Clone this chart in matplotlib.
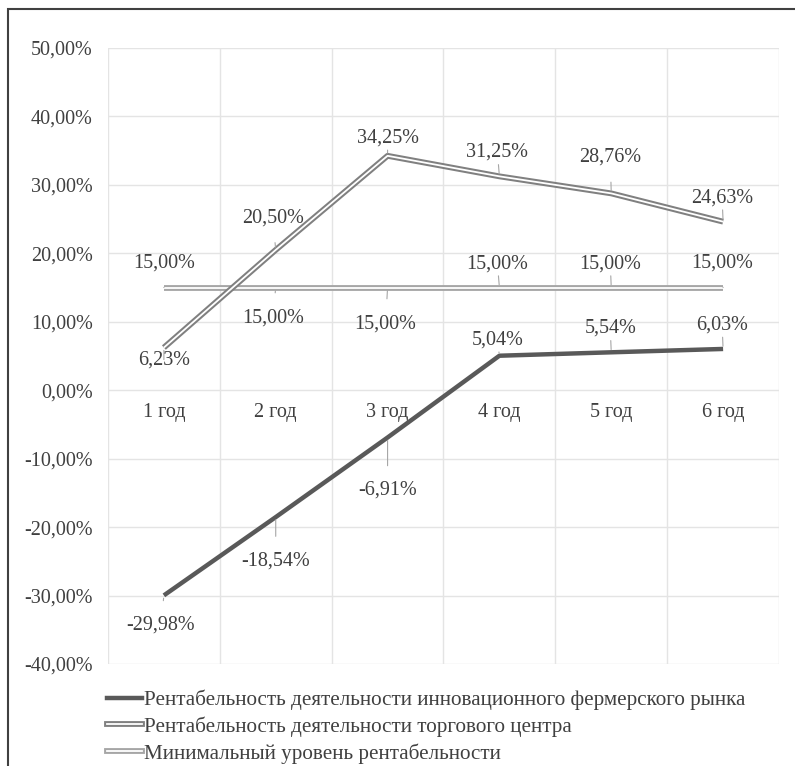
import matplotlib.pyplot as plt
from matplotlib.lines import Line2D
from matplotlib.patches import Rectangle
from matplotlib.ticker import FixedLocator

plt.rcParams['font.family'] = ['Liberation Serif', 'DejaVu Serif']

years = ['1 год', '2 год', '3 год', '4 год', '5 год', '6 год']
market = [-29.98, -18.54, -6.91, 5.04, 5.54, 6.03]
mall = [6.23, 20.50, 34.25, 31.25, 28.76, 24.63]
minimum = [15.00, 15.00, 15.00, 15.00, 15.00, 15.00]
names = ['Рентабельность деятельности инновационного фермерского рынка',
         'Рентабельность деятельности торгового центра',
         'Минимальный уровень рентабельности']

# label offsets in pixels (x, y up)
market_off = [(-3, -30), (0, -44), (0, -53), (-2, 16), (-1, 24), (-1, 24)]
mall_off = [(0, -12), (-3, 32), (0, 18), (-2, 24), (-1, 36), (-1, 24)]
min_off = [(0, 25), (-3, -30), (-2, -36), (-2, 24), (-1, 24), (-1, 25)]

fs = 14.5
fig = plt.figure(figsize=(7.95, 7.66), dpi=100)
ax = fig.add_axes([0.1358, 0.1332, 0.9799 - 0.1358, 0.9373 - 0.1332])

x = list(range(len(years)))
ax.set_xlim(-0.5, 5.5)
ax.set_ylim(-40, 50)
ax.set_yticks(range(-40, 51, 10))
ax.set_yticklabels([f'{v:.2f}%'.replace('.', ',') for v in range(-40, 51, 10)],
                   fontsize=fs, color='#404040')
ax.tick_params(axis='y', length=0, pad=11)
ax.set_xticks([])
ax.xaxis.set_minor_locator(FixedLocator([i - 0.5 for i in range(7)]))
ax.tick_params(axis='x', which='minor', length=0)
ax.grid(axis='y', color='#e4e4e4', lw=1)
ax.grid(axis='x', which='minor', color='#e4e4e4', lw=1)
for s in ax.spines.values():
    s.set_visible(False)
ax.set_axisbelow(True)

for i, lab in enumerate(years):
    ax.annotate(lab, (i, 0), xytext=(0, -22), textcoords='offset pixels',
                ha='center', va='center', fontsize=fs, color='#404040')

# farmer market: solid dark line
ax.plot(x, market, color='#595959', lw=3.2, solid_capstyle='butt', zorder=5)
# mall: double line
ax.plot(x, mall, color='#808080', lw=4.2, solid_capstyle='butt', zorder=4)
ax.plot(x, mall, color='white', lw=1.3, solid_capstyle='butt', zorder=4.1)
# minimum level: light double line
ax.plot(x, minimum, color='#a6a6a6', lw=4.2, solid_capstyle='butt', zorder=3)
ax.plot(x, minimum, color='white', lw=1.3, solid_capstyle='butt', zorder=3.1)


def add_labels(vals, offs):
    for i, (v, (dx, dy)) in enumerate(zip(vals, offs)):
        ax.annotate(f'{v:.2f}%'.replace('.', ','), (i, v), xytext=(dx, dy),
                    textcoords='offset pixels', ha='center', va='center',
                    fontsize=fs, color='#404040', zorder=6,
                    arrowprops=dict(arrowstyle='-', color='#a6a6a6', lw=0.8,
                                    shrinkA=9, shrinkB=2))


add_labels(market, market_off)
add_labels(mall, mall_off)
add_labels(minimum, min_off)

h1 = Line2D([], [], color='#595959', lw=3.2)
h2 = (Line2D([], [], color='#808080', lw=4.2), Line2D([], [], color='white', lw=1.3))
h3 = (Line2D([], [], color='#a6a6a6', lw=4.2), Line2D([], [], color='white', lw=1.3))
fig.legend([h1, h2, h3], names, loc='upper left', bbox_to_anchor=(0.124, 0.111),
           frameon=False, fontsize=15.2, handlelength=1.65, handletextpad=0.12,
           labelspacing=0.3, borderaxespad=0, labelcolor='#404040')

# outer frame (left and top edges visible)
fig.patches.append(Rectangle((8 / 795, -0.1), 1.2, 1 - 9 / 766 + 0.1,
                             transform=fig.transFigure, fill=False,
                             edgecolor='#404040', lw=1.5))

fig.savefig('out.png', dpi=100)
